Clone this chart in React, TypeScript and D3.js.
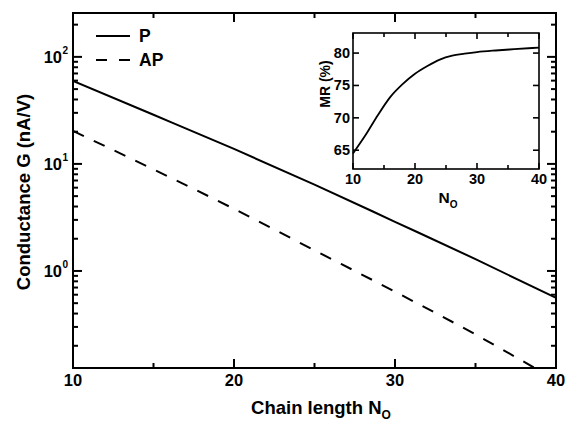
import React from "react";
import * as d3 from "d3";

// main plot data
const chainN = [10, 15, 20, 25, 30, 35, 40];
const gP = [59.7, 28.8, 13.8, 6.4, 2.88, 1.29, 0.56];
const gAP = [20.3, 8.9, 3.8, 1.56, 0.64, 0.255, 0.095];

// inset: MR vs N_O
const insetN = [10, 12, 14, 16, 18, 20, 22, 24, 26, 28, 30, 33, 36, 40];
const insetMR = [64.5, 67.3, 70.4, 73.2, 75.2, 76.8, 78.0, 79.0, 79.6, 79.9, 80.15, 80.4, 80.6, 80.85];

const xTicks = [10, 20, 30, 40];
const xMinor = [15, 25, 35];
const yDecades = [0, 1, 2];
const insetYTicks = [65, 70, 75, 80];

const W = 567;
const H = 421;
const font = "'Liberation Sans', Arial, Helvetica, sans-serif";
const tickColor = "#000";

export default function App() {
  const m = { left: 73, right: 556, top: 13, bottom: 368 };
  const x = d3.scaleLinear().domain([10, 40]).range([m.left, m.right]);
  const y = d3.scaleLog().domain([0.124, 257]).range([m.bottom, m.top]);

  const lineFor = (vals: number[]) =>
    d3
      .line<number>()
      .x((_, i) => x(chainN[i]))
      .y((d) => y(d))
      .curve(d3.curveMonotoneX)(vals) || "";

  const isMajor = (v: number) => Math.abs(Math.log10(v) - Math.round(Math.log10(v))) < 1e-6;
  const xAll = xTicks.concat(xMinor);

  // inset
  const im = { left: 353, right: 539, top: 33, bottom: 169 };
  const ix = d3.scaleLinear().domain([10, 40]).range([im.left, im.right]);
  const iy = d3.scaleLinear().domain([62.1, 83.1]).range([im.bottom, im.top]);
  const insetPath =
    d3
      .line<number>()
      .x((_, i) => ix(insetN[i]))
      .y((d) => iy(d))
      .curve(d3.curveMonotoneX)(insetMR) || "";

  return (
    <svg width={W} height={H} style={{ position: "absolute", left: 0, top: 0 }}>
      <defs>
        <clipPath id="plotClip">
          <rect x={m.left} y={m.top} width={m.right - m.left} height={m.bottom - m.top} />
        </clipPath>
      </defs>

      {/* data lines */}
      <g clipPath="url(#plotClip)" fill="none" stroke="#000" strokeWidth={2}>
        <path d={lineFor(gP)} />
        <path d={lineFor(gAP)} strokeDasharray="12 11" />
      </g>

      {/* frame */}
      <rect
        x={m.left}
        y={m.top}
        width={m.right - m.left}
        height={m.bottom - m.top}
        fill="none"
        stroke="#000"
        strokeWidth={2}
      />

      {/* ticks, pointing inward on all four sides */}
      {xAll.map((t) => {
        const len = xTicks.includes(t) ? 9 : 5;
        return (
          <g key={"xt" + t}>
            <line x1={x(t)} x2={x(t)} y1={m.bottom} y2={m.bottom - len} stroke={tickColor} strokeWidth={2} />
            <line x1={x(t)} x2={x(t)} y1={m.top} y2={m.top + len} stroke={tickColor} strokeWidth={2} />
          </g>
        );
      })}
      {y.ticks().map((t, i) => {
        const len = isMajor(t) ? 9 : 5;
        return (
          <g key={"yt" + i}>
            <line x1={m.left} x2={m.left + len} y1={y(t)} y2={y(t)} stroke={tickColor} strokeWidth={2} />
            <line x1={m.right} x2={m.right - len} y1={y(t)} y2={y(t)} stroke={tickColor} strokeWidth={2} />
          </g>
        );
      })}

      <g fontFamily={font} fontWeight="bold" fill="#000">
        {xTicks.map((t) => (
          <text key={"xl" + t} x={x(t)} y={386} textAnchor="middle" fontSize={16.5}>
            {t}
          </text>
        ))}
        {yDecades.map((p) => (
          <text key={"yl" + p} x={62} y={y(Math.pow(10, p)) + 6} textAnchor="end" fontSize={16.5}>
            10
          </text>
        ))}
        {yDecades.map((p) => (
          <text key={"ys" + p} x={62.5} y={y(Math.pow(10, p)) - 2.5} fontSize={10}>
            {p}
          </text>
        ))}

        {/* axis titles */}
        <text x={321} y={414} textAnchor="middle" fontSize={18.5}>
          Chain length N
          <tspan dy={5} fontSize={12}>
            O
          </tspan>
        </text>
        <text transform={`translate(30, 192) rotate(-90)`} textAnchor="middle" fontSize={18.5}>
          Conductance G (nA/V)
        </text>

        {/* legend labels */}
        <text x={139} y={42} fontSize={17.5}>
          P
        </text>
        <text x={139} y={66} fontSize={17.5}>
          AP
        </text>
      </g>

      {/* legend lines */}
      <line x1={96} x2={130} y1={36} y2={36} stroke="#000" strokeWidth={2} />
      <line x1={96} x2={130} y1={60} y2={60} stroke="#000" strokeWidth={2} strokeDasharray="11 12" />

      {/* inset */}
      <rect x={im.left} y={im.top} width={im.right - im.left} height={im.bottom - im.top} fill="#fff" />
      <path d={insetPath} fill="none" stroke="#000" strokeWidth={1.8} />
      <rect
        x={im.left}
        y={im.top}
        width={im.right - im.left}
        height={im.bottom - im.top}
        fill="none"
        stroke="#000"
        strokeWidth={1.6}
      />
      {xAll.map((t) => {
        const len = xTicks.includes(t) ? 6 : 4;
        return (
          <g key={"ixt" + t}>
            <line x1={ix(t)} x2={ix(t)} y1={im.bottom} y2={im.bottom - len} stroke={tickColor} strokeWidth={1.6} />
            <line x1={ix(t)} x2={ix(t)} y1={im.top} y2={im.top + len} stroke={tickColor} strokeWidth={1.6} />
          </g>
        );
      })}
      {insetYTicks.map((t) => (
        <g key={"iyt" + t}>
          <line x1={im.left} x2={im.left + 6} y1={iy(t)} y2={iy(t)} stroke={tickColor} strokeWidth={1.6} />
          <line x1={im.right} x2={im.right - 6} y1={iy(t)} y2={iy(t)} stroke={tickColor} strokeWidth={1.6} />
        </g>
      ))}
      <g fontFamily={font} fontWeight="bold" fill="#000">
        {xTicks.map((t) => (
          <text key={"ixl" + t} x={ix(t)} y={184} textAnchor="middle" fontSize={14.5}>
            {t}
          </text>
        ))}
        {insetYTicks.map((t) => (
          <text key={"iyl" + t} x={350} y={iy(t) + 5} textAnchor="end" fontSize={14.5}>
            {t}
          </text>
        ))}
        <text x={448} y={203} textAnchor="middle" fontSize={15.5}>
          N
          <tspan dy={5} fontSize={10}>
            O
          </tspan>
        </text>
        <text transform={`translate(330, 84) rotate(-90)`} textAnchor="middle" fontSize={14}>
          MR (%)
        </text>
      </g>
    </svg>
  );
}
